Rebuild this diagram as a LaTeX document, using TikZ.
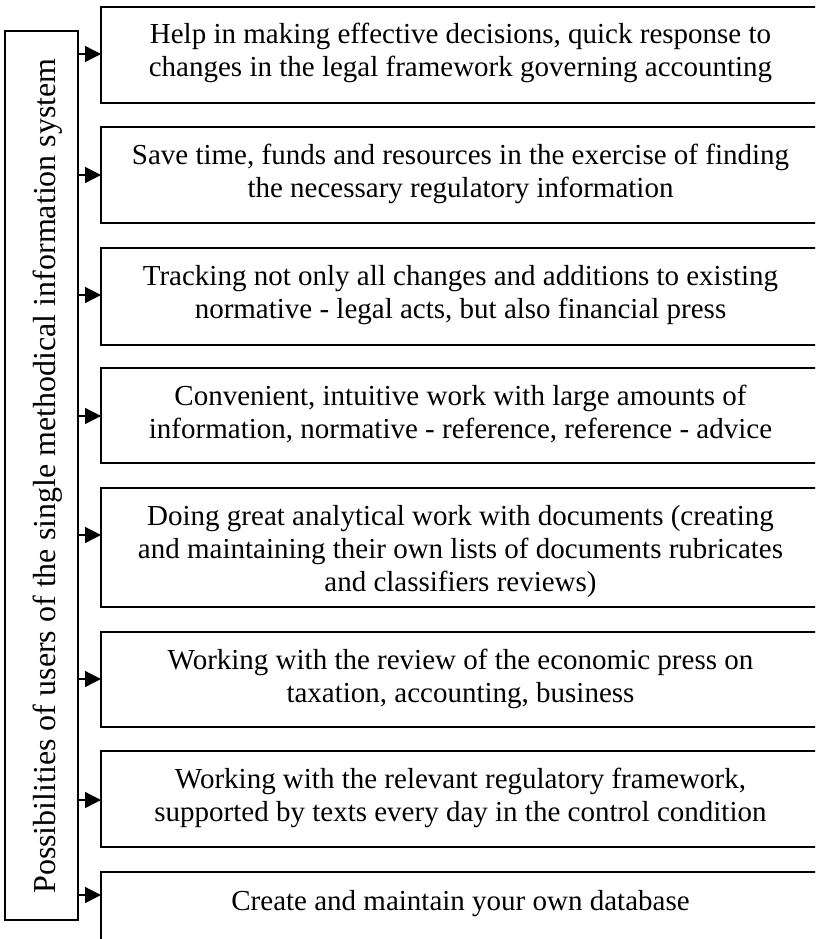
\documentclass[tikz,border=0pt]{standalone}
\usepackage{fontspec}
\setmainfont{Liberation Serif}
\usetikzlibrary{arrows.meta}
\tikzset{
  boxnode/.style={draw, line width=1.3pt, rectangle, minimum width=719pt, inner sep=0pt, outer sep=0pt},
  txtnode/.style={anchor=north, align=center, inner sep=0pt, outer sep=0pt, font=\fontsize{29}{33}\selectfont},
  arr/.style={line width=1.3pt, -{Triangle[length=16pt,width=16pt]}},
}
\newcommand{\fl}{\rule{0pt}{21pt}}
\begin{document}
\begin{tikzpicture}[x=1pt,y=-1pt]
\useasboundingbox (0,0) rectangle (815,939);
\clip (0,0) rectangle (815,939);
% left box
\node[draw, line width=1.3pt, minimum width=73pt, minimum height=889pt, inner sep=0pt, outer sep=0pt] (L) at (41.5,475.5) {};
\node[rotate=90, anchor=base, inner sep=0pt, font=\fontsize{32}{33}\selectfont] (Lt) at (55,476) {Possibilities of users of the single methodical information system};
% right boxes
\node[boxnode, minimum height=96pt] (b1) at (460.5,55) {};
\node[boxnode, minimum height=96pt] (b2) at (460.5,175) {};
\node[boxnode, minimum height=97pt] (b3) at (460.5,296.5) {};
\node[boxnode, minimum height=95pt] (b4) at (460.5,415.5) {};
\node[boxnode, minimum height=119pt] (b5) at (460.5,547.5) {};
\node[boxnode, minimum height=95pt] (b6) at (460.5,679.5) {};
\node[boxnode, minimum height=96pt] (b7) at (460.5,799) {};
\node[boxnode, minimum height=96pt] (b8) at (460.5,920) {};
% texts
\node[txtnode] (t1) at (460.5,23) {\fl Help in making effective decisions, quick response to\\changes in the legal framework governing accounting};
\node[txtnode] (t2) at (460.5,143) {\fl Save time, funds and resources in the exercise of finding\\the necessary regulatory information};
\node[txtnode] (t3) at (460.5,264) {\fl Tracking not only all changes and additions to existing\\normative - legal acts, but also financial press};
\node[txtnode] (t4) at (460.5,384) {\fl Convenient, intuitive work with large amounts of\\information, normative - reference, reference - advice};
\node[txtnode] (t5) at (460.5,504) {\fl Doing great analytical work with documents (creating\\and maintaining their own lists of documents rubricates\\and classifiers reviews)};
\node[txtnode] (t6) at (460.5,648) {\fl Working with the review of the economic press on\\taxation, accounting, business};
\node[txtnode] (t7) at (460.5,767) {\fl Working with the relevant regulatory framework,\\supported by texts every day in the control condition};
\node[txtnode] (t8) at (460.5,889) {\fl Create and maintain your own database};
% arrows
\draw[arr] (L.east |- 0,54) -- (b1.west |- 0,54);
\draw[arr] (L.east |- 0,175) -- (b2.west |- 0,175);
\draw[arr] (L.east |- 0,295) -- (b3.west |- 0,295);
\draw[arr] (L.east |- 0,416) -- (b4.west |- 0,416);
\draw[arr] (L.east |- 0,535) -- (b5.west |- 0,535);
\draw[arr] (L.east |- 0,679) -- (b6.west |- 0,679);
\draw[arr] (L.east |- 0,800) -- (b7.west |- 0,800);
\draw[arr] (L.east |- 0,895) -- (b8.west |- 0,895);
\end{tikzpicture}
\end{document}
